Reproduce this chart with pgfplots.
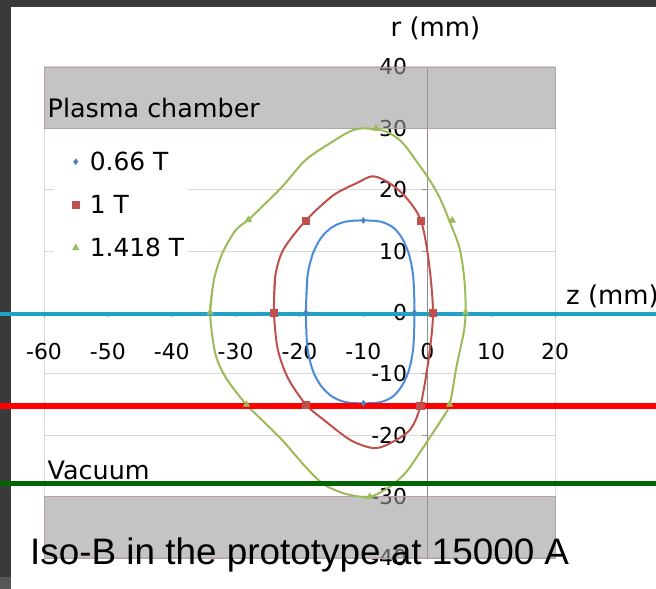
\documentclass[border=0pt]{standalone}
\usepackage{pgfplots}
\pgfplotsset{compat=1.18}
\usepackage{fontspec}
\setmainfont{DejaVu Sans}
\newfontfamily\arialfont{Liberation Sans}
\definecolor{framedark}{HTML}{3A3A3A}
\definecolor{framelight}{HTML}{575757}
\definecolor{gridgray}{HTML}{D9D9D9}
\definecolor{axisgray}{HTML}{8C8C8C}
\definecolor{bandfill}{HTML}{9A9A9A}
\definecolor{bandedge}{HTML}{B5A3A3}
\definecolor{bl}{HTML}{4A8BDB}
\definecolor{blm}{HTML}{4F81BD}
\definecolor{rd}{HTML}{C0504D}
\definecolor{gr}{HTML}{9BBB59}
\definecolor{cyanl}{HTML}{22A0C8}
\definecolor{redl}{HTML}{FF0000}
\definecolor{greenl}{HTML}{006400}
\pgfplotsset{mleg/.style={legend image code/.code={\path[draw=none,fill=none] (-21bp,0bp) -- (4bp,0bp); \draw[##1] plot coordinates {(0bp,0bp)};}}}
\begin{document}
\begin{tikzpicture}[x=1bp,y=1bp]
\fill[framedark] (0,582) rectangle (656,589);
\fill[framedark] (0,12) rectangle (11,589);
\fill[framelight] (0,0) rectangle (11,12);
\begin{axis}[
  at={(44bp,31bp)}, anchor=south west,
  scale only axis, width=511bp, height=491bp,
  xmin=-60, xmax=20, ymin=-40, ymax=40,
  enlargelimits=false, clip=false, set layers,
  axis lines=middle,
  axis line style={draw=axisgray, line width=0.9bp, -},
  xtick={-60,-50,...,20}, xticklabels={-60,-50,-40,-30,-20,-10,0,10,20},
  ytick={-40,-30,...,40}, yticklabels={-40,-30,-20,-10,0,10,20,30,40},
  tick align=outside, major tick length=5bp,
  tick style={draw=axisgray, line width=0.8bp},
  ymajorgrids, grid style={draw=gridgray, line width=1bp},
  extra x ticks={-60,20}, extra x tick labels={},
  extra x tick style={grid=major, major tick length=0pt},
  ticklabel style={font=\fontsize{22}{26}\selectfont, inner sep=0pt},
  xticklabel style={anchor=north, yshift=-26bp},
  yticklabel style={anchor=east, xshift=-15bp},
  legend style={at={(axis cs:-58.5,27.85)}, anchor=north west, draw=none, fill=white,
    inner xsep=1bp, inner ysep=8bp, row sep=19.3bp,
    font=\fontsize{25}{30}\selectfont, cells={anchor=west},
    /tikz/every odd column/.style={column sep=8bp}},
]
% gray bands (plasma chamber / vacuum walls)
\addplot[fill=bandfill, fill opacity=0.58, draw=bandedge, line width=0.8bp, forget plot]
  coordinates {(-60,30) (20,30) (20,40) (-60,40) (-60,30)};
\addplot[fill=bandfill, fill opacity=0.58, draw=bandedge, line width=0.8bp, forget plot]
  coordinates {(-60,-40) (20,-40) (20,-30) (-60,-30) (-60,-40)};
% zero tick labels at the origin
\node[anchor=north, inner sep=0pt, yshift=-31bp, font=\fontsize{22}{26}\selectfont] at (axis cs:0,0) {0};
\node[anchor=east, inner sep=0pt, xshift=-20bp, font=\fontsize{22}{26}\selectfont] at (axis cs:0,0) {0};
% iso-B curves
\addplot[bl, line width=2bp, smooth, tension=0.5, forget plot] coordinates {
(-19,0) (-18.75,5.9) (-17.9,9.6) (-16.6,12.2) (-14.9,13.9) (-12.8,14.8) (-10,15)
(-7.3,14.8) (-5.4,13.9) (-4,12.2) (-2.9,9.6) (-2.2,5.9) (-2,0) (-2.2,-5.8)
(-2.9,-9.5) (-4,-12) (-5.4,-13.7) (-7.3,-14.6) (-10,-14.8) (-12.8,-14.6)
(-14.9,-13.7) (-16.6,-12) (-17.9,-9.5) (-18.75,-5.8) (-19,0) (-18.75,5.9)};
\addplot[rd, line width=2bp, smooth, tension=0.5, forget plot] coordinates {
(-24,0) (-23.8,5.9) (-22.5,10.3) (-19,15) (-14.7,19.1) (-11,21.1) (-8.5,22.2) (-5.8,21.0) (-3.2,18.6)
(-1.0,15) (0.2,8.6) (0.9,0) (0.2,-7.7) (-1.1,-15.3) (-2.7,-19.1) (-5.8,-21.3) (-8.4,-22.1) (-12,-20.8)
(-16.2,-17.5) (-19,-15) (-21.8,-10.7) (-23.4,-6) (-24,0) (-23.8,5.9)};
\addplot[gr, line width=2bp, smooth, tension=0.5, forget plot] coordinates {
(-34,0) (-33.4,5.3) (-32.1,9.6) (-30,13.4) (-28,15.1) (-25.9,17.2) (-22.7,20.5) (-19.1,24.8)
(-15.2,27.6) (-12.1,29.5) (-10,30) (-6.5,29.5) (-4,27.8) (-1.8,24.8) (0.1,22) (1.9,18.8) (3.6,14.6)
(5.1,10.3) (5.85,4.9) (6,0) (5.7,-3.3) (4.6,-8.7) (3.5,-15) (2.2,-17.5) (0.7,-19.9) (-1.6,-23.5)
(-3.3,-26) (-5.6,-28.2) (-8.9,-30) (-12.6,-29.6) (-16.2,-28) (-19.1,-25.1) (-22.7,-20.8)
(-25.9,-17.5) (-28.5,-14.8) (-31.6,-10.5) (-33.2,-6.6) (-34,0) (-33.4,5.3)};
% data markers
\addplot[only marks, mark=diamond*, mark size=3bp, color=blm, mleg] coordinates {
(-10,15) (-2,0) (-10,-14.8) (-19,0)};
\addlegendentry{0.66 T}
\addplot[only marks, mark=square*, mark size=3.6bp, color=rd, mleg] coordinates {
(-19,15) (-1,15) (0.9,0) (-1.1,-15.2) (-19,-15) (-24,0)};
\addlegendentry{1 T}
\addplot[only marks, mark=triangle*, mark size=3.9bp, color=gr, mleg] coordinates {
(-28,15.1) (-8,30) (3.9,15) (6,0) (3.5,-15) (-9,-30) (-28.3,-15) (-34,0)};
\addlegendentry{1.418 T}
% overlay horizontal lines
\addplot[cyanl, line width=4bp, forget plot] coordinates {(-67,-0.3) (36,-0.3)};
\addplot[redl, line width=5.5bp, forget plot] coordinates {(-67,-15.27) (36,-15.27)};
\addplot[greenl, line width=5.5bp, forget plot] coordinates {(-67,-27.9) (36,-27.9)};
\end{axis}
\node[anchor=base west, inner sep=0pt, font=\fontsize{25.5}{30}\selectfont] at (47.5,471) {Plasma chamber};
\node[anchor=base west, inner sep=0pt, font=\fontsize{25.5}{30}\selectfont] at (47.5,109) {Vacuum};
\node[anchor=base, inner sep=0pt, font=\fontsize{26}{30}\selectfont] at (435.5,552.5) {r (mm)};
\node[anchor=base west, inner sep=0pt, font=\fontsize{26}{30}\selectfont] at (566,284) {z (mm)};
\node[anchor=base west, inner sep=0pt, font=\arialfont\fontsize{37}{42}\selectfont] at (30,24) {Iso-B in the prototype at 15000 A};
\pgfresetboundingbox
\useasboundingbox (0,0) rectangle (656,589);
\end{tikzpicture}
\end{document}
